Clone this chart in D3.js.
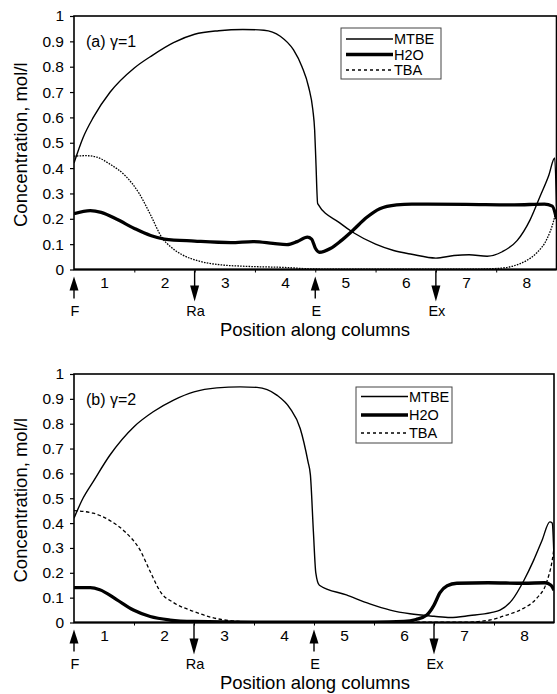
<!DOCTYPE html>
<html>
<head>
<meta charset="utf-8">
<script src="https://cdn.jsdelivr.net/npm/d3@7"></script>
<style>
  body { margin: 0; background: #fff; }
  svg { display: block; font-family: "Liberation Sans", Arial, sans-serif; }
</style>
</head>
<body>
<svg width="557" height="694"></svg>
<script>
// **** Data: [position along columns, concentration mol/l] ****

var mtbeA = [[0,0.42],[0.15,0.52],[0.32,0.60],[0.6,0.70],[1.0,0.795],[1.3,0.845],[1.65,0.895],[2.0,0.928],
  [2.4,0.942],[2.8,0.947],[3.15,0.944],[3.42,0.92],[3.64,0.866],[3.78,0.80],[3.89,0.72],[3.96,0.63],
  [3.99,0.55],[4.01,0.43],[4.04,0.26],[4.4,0.185],[4.65,0.143],[5.0,0.1],[5.3,0.075],[5.6,0.06],
  [6.0,0.045],[6.3,0.055],[6.55,0.058],[6.85,0.052],[7.1,0.07],[7.35,0.115],[7.56,0.195],[7.73,0.29],
  [7.87,0.37],[7.97,0.44],[8.0,0.25]];
var h2oA = [[0,0.22],[0.27,0.232],[0.45,0.225],[0.71,0.198],[1.0,0.162],[1.27,0.134],[1.5,0.12],[2.0,0.112],
  [2.6,0.106],[2.97,0.11],[3.3,0.103],[3.53,0.098],[3.7,0.11],[3.87,0.128],[3.94,0.12],[4.0,0.085],
  [4.07,0.068],[4.25,0.083],[4.42,0.112],[4.63,0.156],[4.85,0.205],[5.07,0.24],[5.35,0.255],[5.6,0.258],
  [6.5,0.257],[7.3,0.255],[7.8,0.258],[7.93,0.25],[8.0,0.2]];
var tbaA = [[0,0.447],[0.2,0.449],[0.38,0.443],[0.6,0.415],[0.85,0.37],[1.08,0.3],[1.27,0.215],[1.46,0.125],
  [1.6,0.09],[1.78,0.06],[2.09,0.032],[2.45,0.018],[2.8,0.013],[3.5,0.008],[4.0,0.002],[5,0.001],
  [6.5,0.001],[7.0,0.004],[7.3,0.015],[7.5,0.035],[7.67,0.065],[7.84,0.12],[7.95,0.19],[8.0,0.24]];

var mtbeB = [[0,0.42],[0.15,0.5],[0.32,0.567],[0.6,0.674],[1.0,0.788],[1.32,0.848],[1.66,0.895],[2.0,0.928],
  [2.38,0.944],[2.77,0.948],[3.05,0.946],[3.38,0.915],[3.6,0.862],[3.77,0.781],[3.9,0.647],[3.94,0.594],
  [3.99,0.365],[4.03,0.2],[4.09,0.15],[4.54,0.111],[4.93,0.075],[5.27,0.05],[5.6,0.035],[6.0,0.025],
  [6.27,0.02],[6.6,0.028],[6.95,0.04],[7.1,0.05],[7.3,0.09],[7.5,0.17],[7.66,0.25],[7.8,0.33],
  [7.93,0.405],[7.97,0.40],[8.0,0.26]];
var h2oB = [[0,0.14],[0.27,0.14],[0.43,0.132],[0.71,0.092],[0.99,0.05],[1.27,0.024],[1.6,0.01],[2.0,0.004],
  [3,0.001],[5.0,0.001],[5.5,0.004],[5.7,0.012],[5.88,0.03],[6.0,0.07],[6.1,0.12],[6.22,0.148],
  [6.38,0.158],[6.9,0.16],[7.5,0.158],[7.85,0.16],[7.95,0.15],[8.0,0.13]];
var tbaB = [[0,0.45],[0.32,0.44],[0.6,0.41],[0.85,0.365],[1.1,0.292],[1.27,0.205],[1.45,0.12],[1.66,0.08],
  [1.99,0.045],[2.3,0.02],[2.66,0.006],[3.2,0.001],[6.5,0.001],[6.93,0.01],[7.21,0.03],[7.49,0.057],
  [7.71,0.097],[7.88,0.164],[7.97,0.25],[8.0,0.3]];

var yTicks = [0, 0.1, 0.2, 0.3, 0.4, 0.5, 0.6, 0.7, 0.8, 0.9, 1];
var columnLabels = ["1", "2", "3", "4", "5", "6", "7", "8"];
var seriesNames = ["MTBE", "H2O", "TBA"];
var ports = [{name: "F", pos: 0, dir: "up"}, {name: "Ra", pos: 2, dir: "down"},
             {name: "E", pos: 4, dir: "up"}, {name: "Ex", pos: 6, dir: "down"}];

// **** Drawing ****

var svg = d3.select('svg');
var font = '"Liberation Sans", Arial, sans-serif';

var panels = [
  {id: "a", label: "(a) \u03b3=1", x0: 74, x1: 556.5, yTop: 16, yBot: 269.5,
   data: [mtbeA, h2oA, tbaA], tbaDash: "1.6,1.2",
   legend: {x: 341, y: 28, w: 100, h: 51, rows: [11, 26.5, 42]}},
  {id: "b", label: "(b) \u03b3=2", x0: 74, x1: 554, yTop: 374, yBot: 622.5,
   data: [mtbeB, h2oB, tbaB], tbaDash: "3.5,2.5",
   legend: {x: 356, y: 387, w: 96, h: 56, rows: [9.5, 28, 46]}}
];

var widths = [1.4, 3.3, 1.3];

panels.forEach(function(p) {
  var x = d3.scaleLinear().domain([0, 8]).range([p.x0, p.x1]);
  var y = d3.scaleLinear().domain([0, 1]).range([p.yBot, p.yTop]);
  var g = svg.append('g');

  g.append('clipPath').attr('id', 'clip-' + p.id)
    .append('rect').attr('x', p.x0).attr('y', p.yTop - 2)
    .attr('width', p.x1 - p.x0).attr('height', p.yBot - p.yTop + 2);

  // y axis
  var yAxis = g.append('g').attr('transform', 'translate(' + p.x0 + ',0)')
    .call(d3.axisLeft(y).tickValues(yTicks).tickSize(4).tickPadding(6)
      .tickFormat(function(d) { return d3.format('')(+d.toFixed(1)); }));
  yAxis.select('.domain').remove();
  yAxis.selectAll('text').style('font-size', '15.5px').style('font-family', font);
  yAxis.selectAll('line').attr('stroke-width', 1.2);

  // x axis: ticks at column boundaries, labels at column centers
  var xAxis = g.append('g').attr('transform', 'translate(0,' + p.yBot + ')')
    .call(d3.axisBottom(x).tickValues([1, 2, 3, 4, 5, 6, 7]).tickSize(3).tickFormat(''));
  xAxis.select('.domain').remove();
  var xLab = g.append('g').attr('transform', 'translate(0,' + p.yBot + ')')
    .call(d3.axisBottom(x).tickValues(columnLabels.map(function(d, i) { return i + 0.5; }))
      .tickSize(0).tickPadding(7).tickFormat(function(d, i) { return columnLabels[i]; }));
  xLab.select('.domain').remove();
  xLab.selectAll('text').style('font-size', '15.5px').style('font-family', font);

  // frame
  g.append('rect').attr('x', p.x0).attr('y', p.yTop)
    .attr('width', p.x1 - p.x0).attr('height', p.yBot - p.yTop)
    .attr('fill', 'none').attr('stroke', '#000').attr('stroke-width', 1.6);
  g.append('line').attr('x1', p.x0).attr('x2', p.x1).attr('y1', p.yBot).attr('y2', p.yBot)
    .attr('stroke', '#000').attr('stroke-width', 2.2);

  // curves
  var line = d3.line()
    .x(function(d) { return x(d[0]); })
    .y(function(d) { return y(d[1]); })
    .curve(d3.curveMonotoneX);
  var curves = g.append('g').attr('clip-path', 'url(#clip-' + p.id + ')');
  p.data.forEach(function(series, i) {
    curves.append('path').datum(series)
      .attr('d', line)
      .attr('fill', 'none')
      .attr('stroke', '#000')
      .attr('stroke-width', widths[i])
      .attr('stroke-linejoin', 'round')
      .attr('stroke-dasharray', i === 2 ? p.tbaDash : null);
  });

  // panel label
  g.append('text').attr('x', p.x0 + 12).attr('y', p.yTop + 31)
    .style('font-size', '16px').text(p.label);

  // legend
  var L = p.legend;
  var leg = g.append('g').attr('transform', 'translate(' + L.x + ',' + L.y + ')');
  leg.append('rect').attr('width', L.w).attr('height', L.h)
    .attr('fill', '#fff').attr('stroke', '#444').attr('stroke-width', 1);
  seriesNames.forEach(function(name, i) {
    leg.append('line').attr('x1', 5).attr('x2', 52).attr('y1', L.rows[i]).attr('y2', L.rows[i])
      .attr('stroke', '#000').attr('stroke-width', widths[i])
      .attr('stroke-dasharray', i === 2 ? '3,3' : null);
    leg.append('text').attr('x', 53).attr('y', L.rows[i] + 5)
      .style('font-size', '14.5px').text(name);
  });

  // feed / withdrawal arrows
  ports.forEach(function(pt) {
    var px = x(pt.pos);
    var b = p.yBot;
    var a = g.append('g');
    if (pt.dir === 'up') {
      a.append('line').attr('x1', px).attr('x2', px).attr('y1', b + 12).attr('y2', b + 29)
        .attr('stroke', '#000').attr('stroke-width', 1.4);
      a.append('path').attr('d', 'M' + px + ',' + (b + 7) + 'L' + (px - 4.5) + ',' + (b + 21) +
        'L' + (px + 4.5) + ',' + (b + 21) + 'Z').attr('fill', '#000');
    } else {
      a.append('line').attr('x1', px).attr('x2', px).attr('y1', b + 1).attr('y2', b + 18)
        .attr('stroke', '#000').attr('stroke-width', 1.4);
      a.append('path').attr('d', 'M' + px + ',' + (b + 32) + 'L' + (px - 4.5) + ',' + (b + 16) +
        'L' + (px + 4.5) + ',' + (b + 16) + 'Z').attr('fill', '#000');
    }
    a.append('text').attr('x', px + 1).attr('y', b + 46)
      .attr('text-anchor', 'middle').style('font-size', '14.5px').text(pt.name);
  });

  // axis titles
  g.append('text').attr('x', 315).attr('y', p.yBot + 66)
    .attr('text-anchor', 'middle').style('font-size', '18.5px').text('Position along columns');
  g.append('text')
    .attr('transform', 'translate(' + 27 + ',' + ((p.yTop + p.yBot) / 2 + 2) + ') rotate(-90)')
    .attr('text-anchor', 'middle').style('font-size', '18.5px').text('Concentration, mol/l');
});
</script>
</body>
</html>
